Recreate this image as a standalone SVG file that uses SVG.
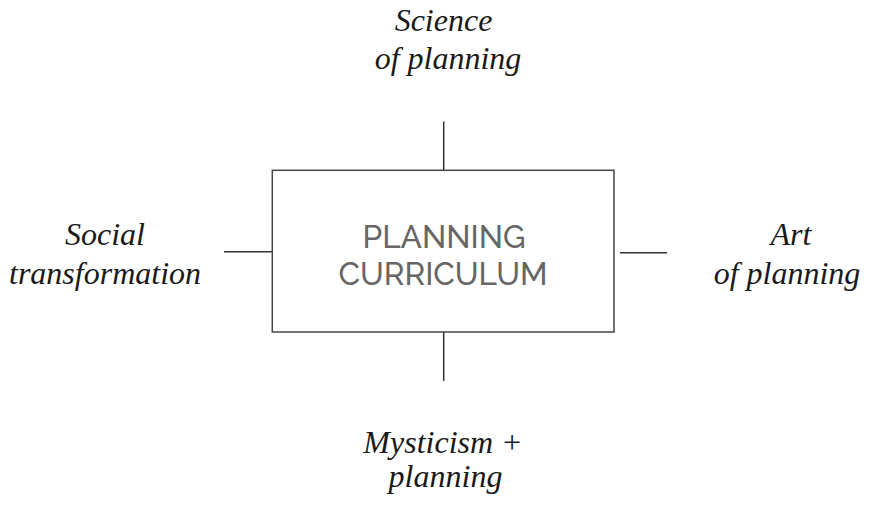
<svg xmlns="http://www.w3.org/2000/svg" width="871" height="506" viewBox="0 0 871 506">
<style>
.lbl{font-family:"Liberation Serif","Times New Roman",serif;font-style:italic;font-size:32px;fill:#1a1a1a;text-anchor:middle}
.ctr{font-family:Raleway,"Liberation Sans",Arial,sans-serif;font-size:31.5px;font-weight:500;fill:#666;text-anchor:middle}
.ln{stroke:#333;stroke-width:1.5;fill:none}
</style>
<rect width="871" height="506" fill="#fff"/>
<g id="connectors">
<line class="ln" x1="443.7" y1="121.5" x2="443.7" y2="170.3"/>
<line class="ln" x1="443.7" y1="332" x2="443.7" y2="381"/>
<line class="ln" x1="224" y1="251.7" x2="272.3" y2="251.7"/>
<line class="ln" x1="620" y1="252.7" x2="667" y2="252.7"/>
</g>
<g id="center">
<rect x="272.3" y="170.3" width="341.7" height="161.7" fill="#fff" stroke="#444" stroke-width="1.5"/>
<text class="ctr" x="444" y="247.7">PLANNING</text>
<text class="ctr" x="443" y="285">CURRICULUM</text>
</g>
<g id="science">
<text class="lbl" x="443.5" y="31">Science</text>
<text class="lbl" x="448" y="69">of planning</text>
</g>
<g id="social">
<text class="lbl" x="105" y="245">Social</text>
<text class="lbl" x="105" y="284">transformation</text>
</g>
<g id="art">
<text class="lbl" x="791" y="245">Art</text>
<text class="lbl" x="787" y="284">of planning</text>
</g>
<g id="mysticism">
<text class="lbl" x="443" y="453">Mysticism +</text>
<text class="lbl" x="445.5" y="487">planning</text>
</g>
</svg>
